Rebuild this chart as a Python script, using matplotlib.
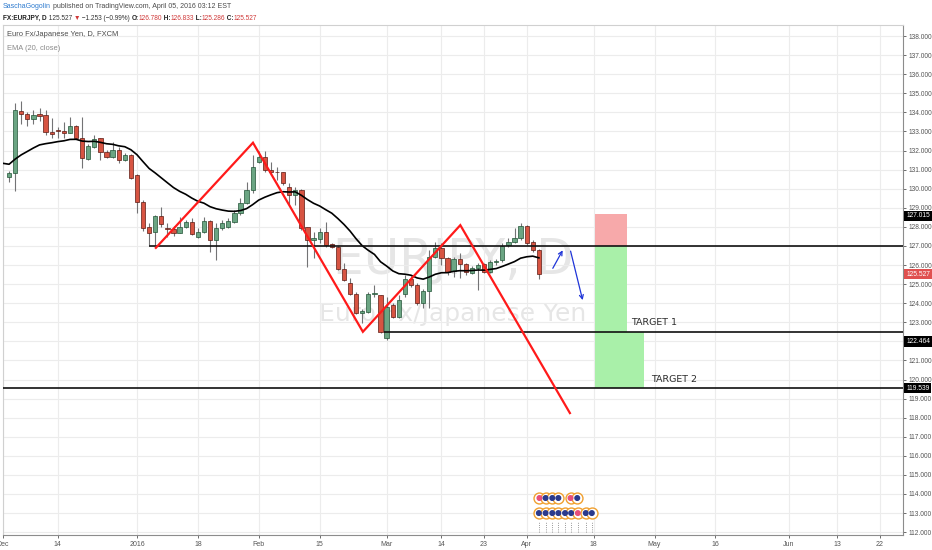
import numpy as np
import pandas as pd
import matplotlib
matplotlib.use('Agg')
import matplotlib.pyplot as plt
import matplotlib.transforms as mtransforms
from matplotlib.patches import Rectangle, FancyArrowPatch

W, H = 932, 550

# trading calendar: weekdays, Christmas and New Year skipped
days = pd.bdate_range('2015-11-30', '2016-08-31')
days = days[~days.isin(pd.to_datetime(['2015-12-25', '2016-01-01']))]
origin = days.get_loc(pd.Timestamp('2015-12-03'))


def pos(d):
    return days.get_loc(pd.Timestamp(d)) - origin


# EUR/JPY daily candles, 2015-12-02 .. 2016-04-05
first_bar = '2015-12-02'
opens = [130.61, 130.82, 134.08, 133.90, 133.65, 133.90, 133.86, 132.95, 133.09, 133.02,
         132.92, 133.27, 132.64, 131.55, 132.20, 132.64, 131.90, 131.67, 132.03, 131.50,
         131.76, 130.71, 129.30, 127.99, 127.71, 128.58, 127.95, 127.88, 127.69, 128.00,
         128.24, 127.48, 127.74, 128.30, 127.31, 127.92, 128.00, 128.27, 128.71, 129.23,
         129.93, 131.38, 131.68, 130.98, 130.89, 130.86, 130.10, 129.67, 129.93, 127.97,
         127.31, 127.35, 127.74, 127.08, 126.93, 125.77, 125.07, 124.48, 123.50, 123.52,
         124.48, 124.43, 122.16, 123.90, 123.29, 124.48, 125.25, 124.95, 124.02, 124.65,
         126.43, 126.87, 126.35, 125.68, 126.31, 126.04, 125.60, 125.83, 126.04, 125.65,
         126.17, 126.26, 127.05, 127.19, 127.40, 128.06, 127.19, 126.780]
highs = [130.92, 134.49, 134.59, 134.02, 134.12, 134.23, 134.12, 133.72, 133.25, 133.50,
         133.77, 133.34, 133.77, 132.32, 132.81, 132.67, 132.03, 132.46, 132.20, 131.87,
         131.82, 130.75, 129.40, 128.20, 128.62, 129.05, 128.20, 128.04, 128.53, 128.36,
         128.44, 127.94, 128.53, 128.36, 128.20, 128.36, 128.44, 128.88, 129.49, 130.36,
         131.76, 131.97, 131.97, 131.41, 131.15, 130.89, 130.30, 130.10, 129.98, 128.00,
         127.74, 127.92, 128.27, 127.13, 127.00, 126.09, 125.30, 124.60, 123.68, 124.60,
         124.95, 124.43, 124.34, 123.99, 124.43, 125.47, 125.42, 125.04, 124.74, 126.78,
         127.22, 127.13, 126.43, 126.43, 126.64, 126.09, 125.95, 126.09, 126.09, 126.26,
         126.30, 127.13, 127.40, 127.92, 128.18, 128.09, 127.31, 126.833]
lows = [130.35, 129.88, 133.39, 133.28, 133.39, 133.55, 132.81, 132.67, 132.67, 132.64,
        132.90, 132.60, 131.07, 131.50, 132.11, 131.50, 131.59, 131.59, 131.33, 131.45,
        130.50, 128.71, 127.78, 127.05, 127.05, 128.00, 127.47, 127.52, 127.66, 127.94,
        127.57, 127.40, 127.68, 126.70, 126.26, 127.83, 127.95, 128.20, 128.62, 129.20,
        129.76, 131.33, 130.89, 130.71, 130.45, 130.19, 129.14, 129.14, 127.83, 125.91,
        126.35, 127.13, 126.96, 126.87, 125.74, 125.17, 124.43, 123.43, 122.94, 123.47,
        124.34, 122.45, 122.07, 123.20, 123.20, 124.34, 124.85, 123.90, 123.73, 123.73,
        126.35, 126.00, 125.47, 125.39, 125.30, 125.47, 125.53, 124.69, 125.60, 125.56,
        126.00, 126.17, 126.96, 127.13, 127.31, 127.05, 126.70, 125.286]
closes = [130.82, 134.12, 133.90, 133.65, 133.86, 133.82, 132.97, 132.88, 133.02, 132.92,
          133.27, 132.64, 131.62, 132.25, 132.60, 131.90, 131.67, 132.03, 131.50, 131.76,
          130.54, 129.30, 127.94, 127.69, 128.58, 128.13, 127.88, 127.66, 128.00, 128.24,
          127.62, 127.74, 128.30, 127.31, 127.92, 128.22, 128.30, 128.71, 129.23, 129.93,
          131.15, 131.68, 130.98, 130.87, 130.86, 130.31, 129.67, 129.93, 127.92, 127.31,
          127.40, 127.74, 127.05, 126.96, 125.77, 125.21, 124.46, 123.50, 123.57, 124.48,
          124.55, 122.50, 123.81, 123.29, 124.16, 125.25, 124.95, 123.99, 124.65, 126.43,
          126.89, 126.35, 125.65, 126.31, 126.05, 125.65, 125.83, 126.00, 125.65, 126.17,
          126.22, 127.00, 127.22, 127.40, 128.06, 127.13, 126.78, 125.527]
ema_seed = 131.33  # EMA value at the left edge, before the first bar

tick_dates = ['2015-12-01', '2015-12-14', '2016-01-04', '2016-01-18', '2016-02-01',
              '2016-02-15', '2016-03-01', '2016-03-14', '2016-03-23', '2016-04-01',
              '2016-04-18', '2016-05-02', '2016-05-16', '2016-06-01', '2016-06-13',
              '2016-06-22']
tick_labels = ['Dec', '14', '2016', '18', 'Feb', '15', 'Mar', '14', '23', 'Apr',
               '18', 'May', '16', 'Jun', '13', '22']
price_ticks = list(range(112, 139))
hidden_ticks = [122]  # covered by a price badge in the original

# drawings (bar index, price)
zigzag_x = [23.1, 39.05, 57.1, 73.1, 91.1]
zigzag_y = [126.9, 132.41, 122.5, 128.09, 118.24]
entry, stop, target1, target2 = 127.015, 128.67, 122.464, 119.539
entry_from, target1_from = 22.0, 60.6
box_x0, box_x1, box_x2 = 95.2, 100.4, 103.2
arrow_up = [(88.07, 125.70), (90.13, 126.90)]
arrow_down = [(91.1, 126.87), (93.3, 124.02)]
events_top = [86.1, 87.1, 88.2, 89.2, 91.2, 92.3]
events_top_kind = ['r', 'b', 'b', 'b', 'r', 'b']
events_bot = [86.0, 87.1, 88.2, 89.2, 90.3, 91.3, 92.4, 93.7, 94.7]
events_bot_kind = ['b', 'b', 'b', 'b', 'b', 'b', 'r', 'b', 'b']

o = np.array(opens); h = np.array(highs); l = np.array(lows); c = np.array(closes)
x = np.arange(pos(first_bar), pos(first_bar) + len(o))
ema = pd.Series([ema_seed] + closes).ewm(span=20, adjust=False).mean().values
ema_x = np.concatenate([[x[0] - 1], x])

lab = ['Liberation Sans', 'DejaVu Sans']

fig = plt.figure(figsize=(W / 100, H / 100), dpi=100, facecolor='white')
ax = fig.add_axes([3 / W, 15 / H, 900 / W, 510 / H])
ax.set_xlim(-1.72, 145.8)
ax.set_ylim(111.85, 138.58)

tick_pos = [pos(d) for d in tick_dates]
ax.set_xticks(tick_pos)
ax.set_xticklabels(tick_labels, family=lab, fontsize=5.0)
ax.set_yticks(price_ticks)
ax.set_yticklabels(['' if p in hidden_ticks else '%.3f' % p for p in price_ticks],
                   family=lab, fontsize=4.8)
ax.yaxis.tick_right()
ax.tick_params(axis='both', colors='#555555', length=2.5, width=0.6, pad=1.5)
ax.grid(True, color='#ececec', lw=0.8, zorder=0)
ax.set_axisbelow(True)
for s in ['top', 'left']:
    ax.spines[s].set_color('#d0d0d0')
for s in ['right', 'bottom']:
    ax.spines[s].set_color('#8c8c8c')
for s in ax.spines.values():
    s.set_linewidth(0.8)

# watermark
ax.text(0.5, 0.539, 'EURJPY, D', transform=ax.transAxes, fontsize=35, color='#e6e6e6',
        ha='center', va='center', zorder=0.5)
ax.text(0.5, 0.433, 'Euro Fx/Japanese Yen', transform=ax.transAxes, fontsize=18,
        color='#e6e6e6', ha='center', va='center', zorder=0.5)

# position tool
ax.add_patch(Rectangle((box_x0, entry), box_x1 - box_x0, stop - entry, fc='#f7a9aa',
                       ec='none', zorder=1))
ax.add_patch(Rectangle((box_x0, target1), box_x1 - box_x0, entry - target1, fc='#a9f0a9',
                       ec='none', zorder=1))
ax.add_patch(Rectangle((box_x0, target2), box_x2 - box_x0, target1 - target2, fc='#a9f0a9',
                       ec='none', zorder=1))

# candles
up = c >= o
ax.vlines(x, l, h, color='#737375', lw=0.8, zorder=2)
ax.bar(x[up], (c - o)[up], bottom=o[up], width=0.7, color='#6ba583', edgecolor='#225437',
       lw=0.5, zorder=3)
ax.bar(x[~up], (o - c)[~up], bottom=c[~up], width=0.7, color='#d75442', edgecolor='#5b1a13',
       lw=0.5, zorder=3)
ax.plot(ema_x, ema, color='black', lw=1.2, zorder=4)

# horizontal levels
xmin, xmax = ax.get_xlim()
ax.hlines(entry, entry_from, xmax, color='#111111', lw=1.2, zorder=5)
ax.hlines(target1, target1_from, xmax, color='#111111', lw=1.2, zorder=5)
ax.hlines(target2, xmin, xmax, color='#111111', lw=1.2, zorder=5)

ax.plot(zigzag_x, zigzag_y, color='#ff1a1a', lw=1.6, zorder=6, solid_joinstyle='miter')
for a in (arrow_up, arrow_down):
    ax.add_patch(FancyArrowPatch(a[0], a[1], arrowstyle='->', mutation_scale=7,
                                 color='#1f35d8', lw=0.9, zorder=6))

ax.text(101.1, 123.0, 'TARGET 1', fontsize=6.8, color='#2b2b2b', ha='left', va='center',
        zorder=6)
ax.text(104.4, 120.02, 'TARGET 2', fontsize=6.8, color='#2b2b2b', ha='left', va='center',
        zorder=6)

# event markers near the bottom
tr = mtransforms.blended_transform_factory(ax.transData, ax.transAxes)
ax.vlines(events_bot, 0.006, 0.027, transform=tr, colors='#777777', linestyles=':', lw=0.6)
for xs, kinds, yy in ((events_bot, events_bot_kind, 0.043), (events_top, events_top_kind, 0.0725)):
    ax.scatter(xs, [yy] * len(xs), transform=tr, s=62, facecolor='white',
               edgecolor='#f0a030', lw=1.0, zorder=7, clip_on=False)
    cols = ['#e8507a' if k == 'r' else '#2b3a8c' for k in kinds]
    ax.scatter(xs, [yy] * len(xs), transform=tr, s=11, c=cols, zorder=8, clip_on=False)

# price badges on the axis
ty = mtransforms.blended_transform_factory(ax.transAxes, ax.transData)
badges = [('127.015', 128.57, 'black'), ('125.527', 125.527, '#e0504f'),
          ('122.464', 122.0, 'black'), ('119.539', 119.539, 'black')]
for txt, yv, col in badges:
    ax.text(1.0035, yv, txt, transform=ty, fontsize=4.8, family=lab, color='white',
            ha='left', va='center', zorder=10, clip_on=False,
            bbox=dict(boxstyle='square,pad=0.25', fc=col, ec='none'))

# header texts
rend = fig.canvas.get_renderer()


def chain(x_px, y_px, parts, size):
    for s, col, wt in parts:
        fig.text(x_px / W, 1 - y_px / H, s, fontsize=size, color=col, fontweight=wt,
                 family=lab, ha='left', va='center')
        t1 = fig.text(0, 0, 'x' + s + 'x', fontsize=size, fontweight=wt, family=lab)
        t2 = fig.text(0, 0, 'xx', fontsize=size, fontweight=wt, family=lab)
        x_px += t1.get_window_extent(rend).width - t2.get_window_extent(rend).width
        t1.remove(); t2.remove()


chain(3, 7, [('SaschaGogolin', '#2e7bcf', 'normal'),
             (' published on TradingView.com, April 05, 2016 03:12 EST', '#4a4a4a', 'normal')], 5.0)
red = '#d03838'
chain(3, 18, [('FX:EURJPY, D', '#222222', 'bold'), (' 125.527 ', '#333333', 'normal'),
              ('▼', red, 'normal'), (' −1.253 (−0.99%) ', '#333333', 'normal'),
              ('O:', '#222222', 'bold'), ('126.780', red, 'normal'),
              (' H:', '#222222', 'bold'), ('126.833', red, 'normal'),
              (' L:', '#222222', 'bold'), ('125.286', red, 'normal'),
              (' C:', '#222222', 'bold'), ('125.527', red, 'normal')], 4.7)
fig.text(7 / W, 1 - 35 / H, 'Euro Fx/Japanese Yen, D, FXCM', fontsize=5.4, color='#4c4c4c',
         family=lab, va='center')
fig.text(7 / W, 1 - 48 / H, 'EMA (20, close)', fontsize=5.4, color='#8a8a8a',
         family=lab, va='center')

fig.savefig('out.png', dpi=100)
